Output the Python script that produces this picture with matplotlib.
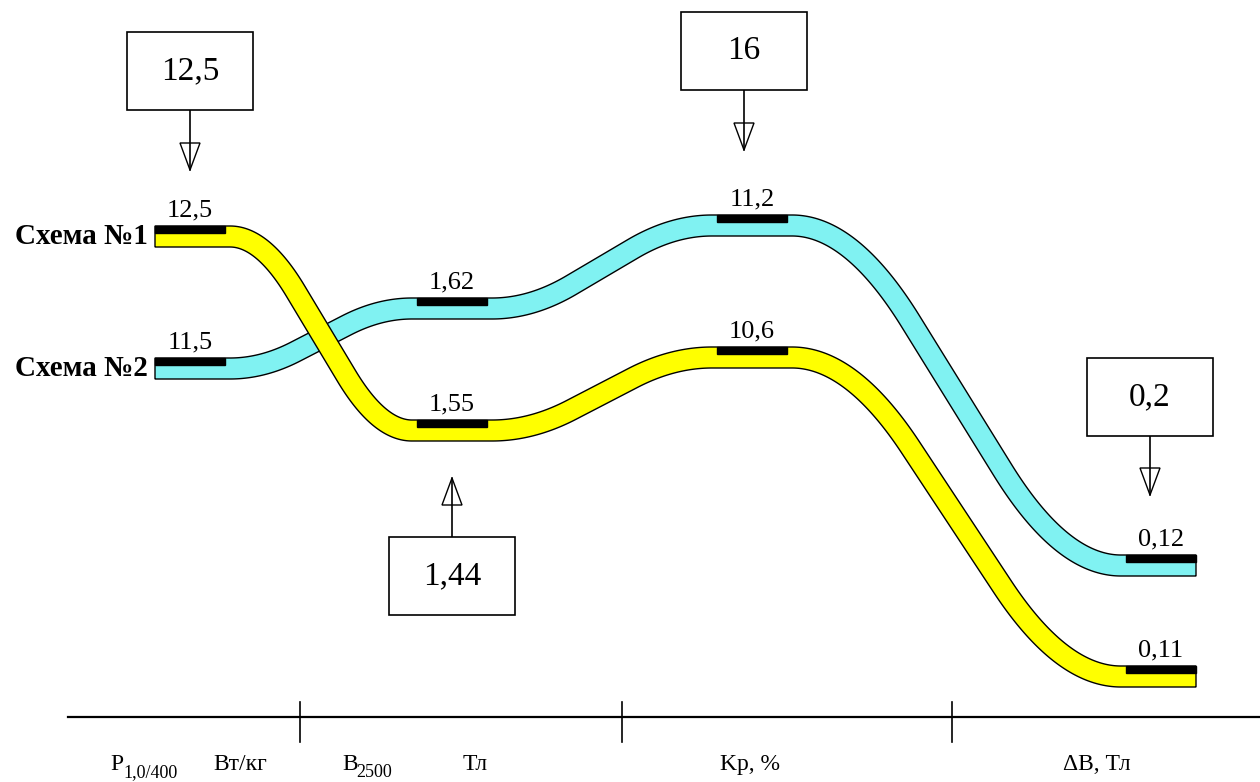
import numpy as np
import matplotlib.pyplot as plt
from matplotlib.patches import Polygon, Rectangle

plt.rcParams['font.family'] = ['Liberation Serif', 'DejaVu Serif']

# данные
schemes = ['Схема №1', 'Схема №2']
scheme1 = [12.5, 1.55, 10.6, 0.11]
scheme2 = [11.5, 1.62, 11.2, 0.12]
targets = [12.5, 1.44, 16, 0.2]
param_labels = [('P', '1,0/400'), ('Вт/кг', ''), ('B', '2500'), ('Тл', ''),
                ('Kр, %', ''), ('ΔB, Тл', '')]

# раскладка (пиксели)
station_x = [190, 452, 752, 1161]
# шкала каждого параметра: (значение, уровень), (значение, уровень)
scales = [(11.5, 358, 12.5, 226), (1.55, 420, 1.62, 298),
          (10.6, 347, 11.2, 215), (0.11, 666, 0.12, 555)]
colors = ['#FFFF00', '#80F2F2']
BAND = 21
HW = 40
RAMP = 0.36
X0, X1 = 155, 1196

box_dx = [0, 0, -8, -11]
box_edge = [110, 537, 90, 436]
arrow_tip = [170, 478, 150, 495]
box_h = 78
box_w = 126

label_x = [110, 213, 342, 463, 720, 1063]
axis_breaks = [300, 622, 952]


def level(i, v):
    v0, y0, v1, y1 = scales[i]
    return y0 + (v - v0) * (y1 - y0) / (v1 - v0)


def fmt(v):
    return f'{v:g}'.replace('.', ',')


# плавный переход: прямой участок со скруглёнными концами
_t = np.linspace(0, 1, 1001)
_slope = np.clip(np.minimum(_t, 1 - _t) / RAMP, 0, 1)
_s = np.concatenate([[0], np.cumsum((_slope[1:] + _slope[:-1]) / 2)])
_s = _s / _s[-1]


def ease(t):
    return np.interp(t, _t, _s)


def band(values):
    tops = [level(i, v) for i, v in enumerate(values)]
    a = [X0] + [c - HW for c in station_x[1:]]
    b = [c + HW for c in station_x[:-1]] + [X1]
    xs = np.linspace(X0, X1, 3000)
    ys = np.empty_like(xs)
    for k, x in enumerate(xs):
        for i in range(4):
            if a[i] <= x <= b[i]:
                ys[k] = tops[i]
                break
            if i < 3 and b[i] < x < a[i + 1]:
                t = (x - b[i]) / (a[i + 1] - b[i])
                ys[k] = tops[i] + (tops[i + 1] - tops[i]) * ease(t)
                break
    ys = ys + BAND / 2
    dy = np.gradient(ys, xs)
    n = np.sqrt(1 + dy ** 2)
    nx, ny = -dy / n, 1 / n
    h = BAND / 2
    up = np.column_stack([xs - nx * h, ys - ny * h])
    lo = np.column_stack([xs + nx * h, ys + ny * h])
    return np.vstack([up, lo[::-1]]), tops


fig = plt.figure(figsize=(12.6, 7.82), dpi=100)
ax = fig.add_axes([0, 0, 1, 1])
ax.set_xlim(0, 1260)
ax.set_ylim(782, 0)
ax.axis('off')

# полосы: сначала схема 2, потом схема 1 сверху
for vals, col, z in [(scheme2, colors[1], 2), (scheme1, colors[0], 3)]:
    verts, tops = band(vals)
    ax.add_patch(Polygon(verts, closed=True, facecolor=col, edgecolor='black', lw=1, zorder=z))
    for i, v in enumerate(vals):
        ax.add_patch(Rectangle((station_x[i] - 35, tops[i]), 70, 7, color='black', zorder=5))
        ax.text(station_x[i], tops[i] - 5, fmt(v), ha='center', va='bottom', fontsize=19, zorder=6)

for name, vals in zip(schemes, [scheme1, scheme2]):
    ax.text(148, level(0, vals[0]) + BAND / 2, name, ha='right', va='center',
            fontsize=21, fontweight='bold')

# целевые значения
for i, tv in enumerate(targets):
    cx = station_x[i] + box_dx[i]
    e, tip = box_edge[i], arrow_tip[i]
    d = 1 if tip > e else -1
    top = e - box_h if d == 1 else e
    ax.add_patch(Rectangle((cx - box_w / 2, top), box_w, box_h, facecolor='white',
                           edgecolor='black', lw=1.2, zorder=4))
    ax.text(cx, top + box_h / 2, fmt(tv), ha='center', va='center', fontsize=24, zorder=5)
    ax.plot([cx, cx], [e, tip], color='black', lw=1.2)
    base = tip - d * 27
    ax.add_patch(Polygon([[cx - 10, base], [cx + 10, base], [cx, tip]], closed=True,
                         fill=False, edgecolor='black', lw=1))

# ось параметров
ax.plot([68, 1260], [717, 717], color='black', lw=1.6)
for xb in axis_breaks:
    ax.plot([xb, xb], [702, 742], color='black', lw=1.2)
for (txt, sub), x in zip(param_labels, label_x):
    ax.text(x, 770, txt, ha='left', va='baseline', fontsize=17)
    if sub:
        ax.annotate(sub, xy=(x, 770), xytext=(10, -5), textcoords='offset points',
                    ha='left', va='baseline', fontsize=13)

plt.savefig('out.png', dpi=100)
